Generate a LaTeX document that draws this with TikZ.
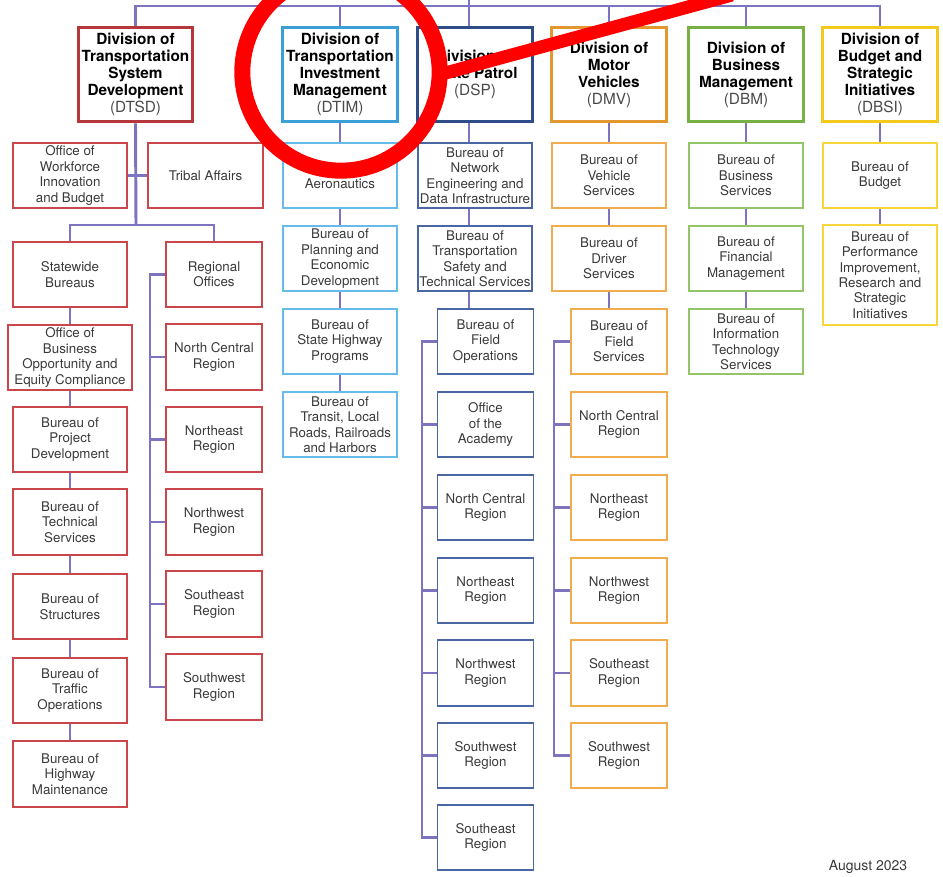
\documentclass[tikz,border=0pt]{standalone}
\usepackage{fontspec}
\setmainfont{TeX Gyre Heros}
\usepackage{tikz}

\definecolor{linkcol}{HTML}{7C74BF}
\definecolor{dtsdcol}{HTML}{B5373C}
\definecolor{dtsdlite}{HTML}{C9464B}
\definecolor{dtimcol}{HTML}{3B9FD8}
\definecolor{dtimlite}{HTML}{66BBE9}
\definecolor{dspcol}{HTML}{2E4C88}
\definecolor{dsplite}{HTML}{4B67A3}
\definecolor{dmvcol}{HTML}{E3972F}
\definecolor{dmvlite}{HTML}{F0AC4F}
\definecolor{dbmcol}{HTML}{77B144}
\definecolor{dbmlite}{HTML}{92C668}
\definecolor{dbsicol}{HTML}{F2C91C}
\definecolor{dbsilite}{HTML}{F6D63C}
\definecolor{unittext}{HTML}{3A3A3A}
\definecolor{abbrtext}{HTML}{4A4A4A}
\definecolor{marker}{HTML}{FF0000}

\newcommand{\divabbr}[1]{{\mdseries\color{abbrtext}(#1)}}

\tikzset{
	division/.style={draw, line width=2.25pt, fill=white, align=center, inner sep=0pt,
		minimum width=86pt, minimum height=71pt, font=\fontsize{11.5}{12.75}\selectfont\bfseries},
	unit/.style={draw, line width=1.4pt, fill=white, align=center, inner sep=0pt,
		minimum width=86pt, minimum height=49pt, text=unittext, font=\fontsize{10}{11.6}\selectfont},
	narrow/.style={unit, minimum width=72pt},
	link/.style={draw=linkcol, line width=2.2pt},
	annot/.style={draw=marker, line width=12pt}
}

\begin{document}
\begin{tikzpicture}[x=0.75pt, y=-0.75pt]
	
	\useasboundingbox (0, 0) rectangle (943, 876);
	\fill[white] (0, 0) rectangle (943, 876);
	\clip (0, 0) rectangle (943, 876);
	
	% divisions
	\node[division, draw=dtsdcol] (dtsd) at (135.5, 74.5) {Division of\\Transportation\\System\\Development\\\divabbr{DTSD}};
	\node[division, draw=dtimcol] (dtim) at (340, 74.5)   {Division of\\Transportation\\Investment\\Management\\\divabbr{DTIM}};
	\node[division, draw=dspcol]  (dsp)  at (475, 74.5)   {Division of\\State Patrol\\\divabbr{DSP}};
	\node[division, draw=dmvcol]  (dmv)  at (609, 74.5)   {Division of\\Motor\\Vehicles\\\divabbr{DMV}};
	\node[division, draw=dbmcol]  (dbm)  at (746, 74.5)   {Division of\\Business\\Management\\\divabbr{DBM}};
	\node[division, draw=dbsicol] (dbsi) at (880, 74.5)   {Division of\\Budget and\\Strategic\\Initiatives\\\divabbr{DBSI}};
	
	% DTSD
	\node[unit, draw=dtsdlite] (workforce)   at (70, 175.5)  {Office of\\Workforce\\Innovation\\and Budget};
	\node[unit, draw=dtsdlite] (tribal)      at (205.5, 175.5) {Tribal Affairs};
	\node[unit, draw=dtsdlite] (statewide)   at (70, 274.5)  {Statewide\\Bureaus};
	\node[unit, draw=dtsdlite, minimum width=93.5pt] (opportunity) at (70, 357.5) {Office of\\Business\\Opportunity and\\Equity Compliance};
	\node[unit, draw=dtsdlite] (project)     at (70, 439.5)  {Bureau of\\Project\\Development};
	\node[unit, draw=dtsdlite] (technical)   at (70, 522)    {Bureau of\\Technical\\Services};
	\node[unit, draw=dtsdlite] (structures)  at (70, 606.5)  {Bureau of\\Structures};
	\node[unit, draw=dtsdlite] (traffic)     at (70, 690.5)  {Bureau of\\Traffic\\Operations};
	\node[unit, draw=dtsdlite] (highway)     at (70, 774)    {Bureau of\\Highway\\Maintenance};
	
	\node[narrow, draw=dtsdlite] (regional) at (214, 274.5) {Regional\\Offices};
	\node[narrow, draw=dtsdlite] (dtsdnc)   at (214, 357)   {North Central\\Region};
	\node[narrow, draw=dtsdlite] (dtsdne)   at (214, 439.5) {Northeast\\Region};
	\node[narrow, draw=dtsdlite] (dtsdnw)   at (214, 522)   {Northwest\\Region};
	\node[narrow, draw=dtsdlite] (dtsdse)   at (214, 604)   {Southeast\\Region};
	\node[narrow, draw=dtsdlite] (dtsdsw)   at (214, 687)   {Southwest\\Region};
	
	% DTIM
	\node[unit, draw=dtimlite] (aero)     at (340, 175.5) {Bureau of\\Aeronautics};
	\node[unit, draw=dtimlite] (planning) at (340, 258.5) {Bureau of\\Planning and\\Economic\\Development};
	\node[unit, draw=dtimlite] (programs) at (340, 341.5) {Bureau of\\State Highway\\Programs};
	\node[unit, draw=dtimlite] (transit)  at (340, 424.5) {Bureau of\\Transit, Local\\Roads, Railroads\\and Harbors};
	
	% DSP
	\node[unit, draw=dsplite]   (network)  at (475, 175.5)   {Bureau of\\Network\\Engineering and\\Data Infrastructure};
	\node[unit, draw=dsplite]   (safety)   at (475, 258.5)   {Bureau of\\Transportation\\Safety and\\Technical Services};
	\node[narrow, draw=dsplite] (fieldops) at (485.5, 341.5) {Bureau of\\Field\\Operations};
	\node[narrow, draw=dsplite] (academy)  at (485.5, 424.5) {Office\\of the\\Academy};
	\node[narrow, draw=dsplite] (dspnc)    at (485.5, 507.5) {North Central\\Region};
	\node[narrow, draw=dsplite] (dspne)    at (485.5, 590.5) {Northeast\\Region};
	\node[narrow, draw=dsplite] (dspnw)    at (485.5, 673)   {Northwest\\Region};
	\node[narrow, draw=dsplite] (dspsw)    at (485.5, 755.5) {Southwest\\Region};
	\node[narrow, draw=dsplite] (dspse)    at (485.5, 837.5) {Southeast\\Region};
	
	% DMV
	\node[unit, draw=dmvlite]   (vehicle)  at (609, 175.5) {Bureau of\\Vehicle\\Services};
	\node[unit, draw=dmvlite]   (driver)   at (609, 258.5) {Bureau of\\Driver\\Services};
	\node[narrow, draw=dmvlite] (fieldsvc) at (619, 341.5) {Bureau of\\Field\\Services};
	\node[narrow, draw=dmvlite] (dmvnc)    at (619, 424.5) {North Central\\Region};
	\node[narrow, draw=dmvlite] (dmvne)    at (619, 507.5) {Northeast\\Region};
	\node[narrow, draw=dmvlite] (dmvnw)    at (619, 590.5) {Northwest\\Region};
	\node[narrow, draw=dmvlite] (dmvse)    at (619, 673)   {Southeast\\Region};
	\node[narrow, draw=dmvlite] (dmvsw)    at (619, 755.5) {Southwest\\Region};
	
	% DBM
	\node[unit, draw=dbmlite] (bizsvc)    at (746, 175.5) {Bureau of\\Business\\Services};
	\node[unit, draw=dbmlite] (financial) at (746, 258.5) {Bureau of\\Financial\\Management};
	\node[unit, draw=dbmlite] (infotech)  at (746, 341.5) {Bureau of\\Information\\Technology\\Services};
	
	% DBSI
	\node[unit, draw=dbsilite] (budget)      at (880, 175.5) {Bureau of\\Budget};
	\node[unit, draw=dbsilite, minimum height=75.5pt] (performance) at (880, 275) {Bureau of\\Performance\\Improvement,\\Research and\\Strategic\\Initiatives};
	
	\node[anchor=base, text=unittext, font=\fontsize{10.5}{12}\selectfont] (date) at (868, 870) {August 2023};
	
	% connectors
	\coordinate (root)      at (469, 0);
	\coordinate (bar)       at (469, 6);
	\coordinate (dtsdfork)  at (136, 225);
	\coordinate (regspine)  at (150, 0);
	\coordinate (dspspine)  at (422, 0);
	\coordinate (dmvspine)  at (554, 0);
	
	\draw[link] (root) -- (bar);
	\draw[link, line join=miter] (dtsd.north) -- (dtsd.north |- bar) -- (dbsi.north |- bar) -- (dbsi.north);
	\foreach \d in {dtim, dmv, dbm}
		\draw[link] (\d.north |- bar) -- (\d.north);
	\draw[link] (bar) -- (bar |- dsp.north);
	
	\draw[link] (dtsd.south) -- (dtsdfork);
	\draw[link, line join=miter] (statewide.north) |- (dtsdfork) -| (regional.north);
	\draw[link] (workforce.east) -- (tribal.west);
	\foreach \a/\b in {statewide/opportunity, opportunity/project, project/technical, technical/structures,
		structures/traffic, traffic/highway, dtim/aero, aero/planning, planning/programs, programs/transit,
		dmv/vehicle, vehicle/driver, dbm/bizsvc, bizsvc/financial, financial/infotech, dbsi/budget, budget/performance}
		\path[link] (\a) edge (\b);
	
	\foreach \a/\b in {dsp/network, network/safety, safety/fieldops}
		\draw[link] (\a.south -| bar) -- (\b.north -| bar);
	\draw[link] (driver.south) -- (driver.south |- fieldsvc.north);
	
	\draw[link, line join=miter] (regional.west) -| (regspine |- dtsdsw.west) -- (dtsdsw.west);
	\foreach \n in {dtsdnc, dtsdne, dtsdnw, dtsdse}
		\draw[link] (\n.west) -- (\n.west -| regspine);
	
	\draw[link, line join=miter] (fieldops.west) -| (dspspine |- dspse.west) -- (dspse.west);
	\foreach \n in {academy, dspnc, dspne, dspnw, dspsw}
		\draw[link] (\n.west) -- (\n.west -| dspspine);
	
	\draw[link, line join=miter] (fieldsvc.west) -| (dmvspine |- dmvsw.west) -- (dmvsw.west);
	\foreach \n in {dmvnc, dmvne, dmvnw, dmvse}
		\draw[link] (\n.west) -- (\n.west -| dmvspine);
	
	% red marking
	\coordinate (mark) at (341, 72);
	\draw[annot] (mark) circle[radius=74pt];
	\draw[annot, line width=9.75pt] (438, 75) -- (732, -5);
	
\end{tikzpicture}
\end{document}
